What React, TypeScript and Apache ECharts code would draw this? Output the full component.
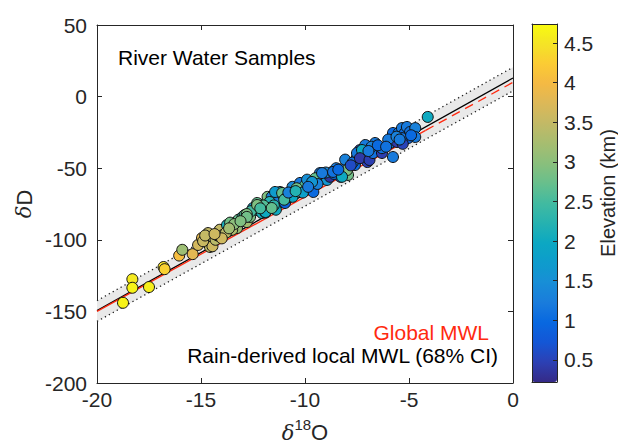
import React, { useEffect, useRef } from "react";
import * as echarts from "echarts";

// ---- data ----
const d18O = [
  -18.75, -18.3, -18.3, -17.5, -16.8, -16.75, -16.05, -15.9, -15.4,
  -15.14, -14.95, -14.7, -14.57, -14.45, -14.66, -14.9, -14.3, -14.2, -14.1, -13.94, -13.75, -13.6, -13.27, -13.2, -12.8, -12.64, -13.0, -12.9, -13.5, -13.8, -14.0, -13.4,
  -12.5, -12.3, -12.3, -12.07, -11.9, -11.8, -12.3, -11.9, -11.6, -11.35, -10.96, -11.06, -11.2, -11.44, -11.7, -11.8, -11.4, -11.1, -10.9, -10.6, -10.6, -11.0, -12.6, -12.0, -11.5, -12.8,
  -10.24, -10.24, -9.6, -9.76, -9.28, -9.2, -8.94, -8.8, -8.7, -10.0, -10.4, -9.9, -9.5, -9.4, -10.1, -9.0,
  -8.3, -8.2, -7.98, -7.93, -8.07, -7.6, -7.5, -7.36, -7.1, -7.0, -7.1, -7.98, -7.7, -7.5, -7.26, -7.36, -6.9, -6.73, -6.63, -6.3, -6.3, -8.5, -8.6, -6.8, -6.5,
  -5.77, -5.9, -5.77, -5.58, -5.5, -5.34, -5.2, -5.1, -4.95, -4.7, -4.7, -5.05, -5.34, -4.1, -6.0, -5.6, -4.9, -5.3,
  -12.8, -12.3, -11.9, -11.6, -9.66, -9.18, -8.65, -8.22, -14.8, -14.35, -13.65, -13.1, -12.15, -10.8, -10.45, -9.85, -8.4, -7.8, -6.95, -6.1, -5.45,
];
const dD = [
  -144, -127.5, -133.5, -133, -119, -120.5, -111, -107, -110,
  -103.6, -98.7, -101.5, -105, -104.5, -95.3, -101, -100, -97, -93, -96.6, -89.7, -88, -91.8, -86, -87.6, -84, -84, -82.7, -93, -95, -99, -89,
  -77.8, -79.2, -77, -81.3, -74.3, -70, -74.3, -81, -70, -73.6, -74.3, -68.7, -66.6, -66.6, -73.6, -77.8, -79, -67.3, -70.8, -70, -63, -72, -80, -76, -76, -82,
  -65, -60.3, -66.6, -60.3, -53.4, -55, -58.2, -56, -52.7, -62, -64, -58, -57, -61, -67, -53,
  -56, -53.4, -49, -54.7, -44, -47.8, -42.2, -37.3, -40.8, -45.7, -33.8, -51.3, -46, -39.4, -37.3, -43, -44.3, -39.4, -32.4, -39.4, -36, -50, -54, -35, -34,
  -42.2, -32.4, -25.4, -31.7, -25.4, -22, -25.4, -21.2, -24.7, -22, -28.2, -29, -29, -14.2, -30, -28, -27, -33,
  -84, -75.7, -80.6, -77.8, -59.6, -53.4, -52.6, -56, -97, -96, -92, -87, -78, -67, -66, -63, -51, -48, -38, -35, -30,
];
const elevation = [
  4.65, 4.55, 4.65, 4.6, 4.45, 4.3, 4.05, 3.15, 3.8,
  3.65, 3.8, 3.3, 3.45, 3.6, 3.5, 3.55, 3.4, 3.3, 3.5, 3.25, 2.1, 2.8, 3.1, 2.7, 3.2, 2.9, 2.4, 2.6, 3.3, 3.4, 3.6, 3.0,
  1.7, 2.3, 2.8, 2.1, 2.4, 2.9, 2.7, 1.6, 1.3, 1.2, 0.9, 1.3, 1.5, 1.7, 2.2, 1.9, 2.0, 2.7, 2.8, 1.95, 1.4, 2.5, 2.5, 2.6, 2.3, 2.9,
  1.0, 1.2, 1.0, 1.1, 1.2, 0.8, 1.6, 0.35, 1.3, 2.6, 2.8, 1.5, 2.7, 1.3, 1.8, 1.4,
  0.4, 1.1, 1.2, 2.8, 1.3, 1.0, 0.7, 0.5, 1.3, 0.45, 1.2, 2.9, 1.1, 1.2, 1.95, 0.4, 0.45, 1.1, 1.2, 0.45, 1.1, 1.2, 1.0, 1.3, 1.0,
  1.2, 1.1, 1.0, 0.4, 1.1, 1.2, 1.0, 1.2, 1.1, 1.3, 1.2, 0.9, 1.1, 2.0, 1.2, 1.3, 1.0, 0.5,
  2.8, 2.9, 2.0, 2.7, 1.6, 1.2, 1.1, 2.0, 3.5, 3.6, 3.2, 2.9, 2.5, 1.3, 2.2, 1.2, 1.0, 0.6, 1.2, 1.1, 1.2,
];

const globalMWLSolid = [[-20, -150], [-4.2, -23.6]];
const globalMWLDashed = [[-4.2, -23.6], [0, 10]];
const localMWL = [[-20, -149.5], [0, 13]];
const ciUpper = [[-20, -142.5], [0, 20.5]];
const ciLower = [[-20, -157], [0, 4]];

const xTicks = { min: -20, max: 0, interval: 5 };
const yTicks = { min: -200, max: 50, interval: 50 };
const elevRange = { min: 0.22, max: 4.74 };
const colorbarTicks = [0.5, 1, 1.5, 2, 2.5, 3, 3.5, 4, 4.5];

const parula = [
  "#352a87", "#2c40b4", "#1456d6", "#0868e0", "#1a7cdc", "#188ed6", "#0e9ccc",
  "#0ca8c2", "#26b2b0", "#42baa0", "#68bf8c", "#8abf7c", "#a6bd70", "#c2b966",
  "#dcb858", "#f4b944", "#fbcb34", "#f4e426", "#f9fb0e",
];

const FONT = "'Liberation Sans', Arial, Helvetica, sans-serif";
const AX = "#262626";
const FS = 21;

export default function App() {
  const ref = useRef<HTMLDivElement>(null);
  useEffect(() => {
    if (!ref.current) return;
    const chart = echarts.init(ref.current, null, { renderer: "svg" });
    const points = d18O.map((x, i) => [x, dD[i], elevation[i]]);

    const mainAxisCommon = {
      axisLine: { show: true, onZero: false, lineStyle: { color: AX, width: 1 } },
      axisTick: { show: true, inside: true, length: 5, lineStyle: { color: AX } },
      splitLine: { show: false },
    };
    const cbLine = { show: true, onZero: false, lineStyle: { color: AX } };

    const option: any = {
      animation: false,
      backgroundColor: "#ffffff",
      grid: [
        { left: 97, top: 25, width: 416, height: 358 },
        { left: 532, top: 24, width: 25, height: 358 },
      ],
      xAxis: [
        {
          type: "value", gridIndex: 0, position: "bottom", ...xTicks, ...mainAxisCommon,
          axisLabel: { color: AX, fontSize: FS, fontFamily: FONT, margin: 6 },
        },
        {
          type: "value", gridIndex: 0, position: "top", ...xTicks, ...mainAxisCommon,
          axisLabel: { show: false },
        },
        {
          type: "value", gridIndex: 1, position: "bottom", min: 0, max: 1, z: 10,
          axisLine: cbLine,
          axisTick: { show: false }, axisLabel: { show: false }, splitLine: { show: false },
        },
        {
          type: "value", gridIndex: 1, position: "top", min: 0, max: 1, z: 10,
          axisLine: cbLine,
          axisTick: { show: false }, axisLabel: { show: false }, splitLine: { show: false },
        },
      ],
      yAxis: [
        {
          type: "value", gridIndex: 0, position: "left", ...yTicks, ...mainAxisCommon,
          axisLabel: { color: AX, fontSize: FS, fontFamily: FONT, margin: 10 },
        },
        {
          type: "value", gridIndex: 0, position: "right", ...yTicks, ...mainAxisCommon,
          axisLabel: { show: false },
        },
        {
          type: "value", gridIndex: 1, position: "left", ...elevRange, z: 10,
          axisLine: cbLine,
          axisTick: { show: false }, axisLabel: { show: false }, splitLine: { show: false },
        },
        {
          type: "value", gridIndex: 1, position: "right", ...elevRange, z: 10,
          axisLine: cbLine,
          axisTick: { show: true, inside: true, length: 4, customValues: colorbarTicks, lineStyle: { color: AX } },
          axisLabel: {
            show: true, customValues: colorbarTicks, color: AX, fontSize: FS, fontFamily: FONT, margin: 7,
            formatter: (v: number) => String(v),
          },
          splitLine: { show: false },
        },
      ],
      visualMap: {
        type: "continuous",
        min: elevRange.min,
        max: elevRange.max,
        dimension: 2,
        seriesIndex: 6,
        inRange: { color: parula },
        orient: "vertical",
        left: 532,
        top: 24,
        itemWidth: 25,
        itemHeight: 358,
        padding: 0,
        calculable: false,
        hoverLink: false,
        text: null,
        showLabel: false,
      },
      graphic: [
        {
          type: "text", left: 118, top: 47,
          style: { text: "River Water Samples", fontSize: FS, fontFamily: FONT, fill: "#000" },
        },
        {
          type: "text", x: 489, y: 332,
          style: { text: "Global MWL", fontSize: FS, fontFamily: FONT, fill: "#ff2a10", align: "right", verticalAlign: "middle" },
        },
        {
          type: "text", x: 498, y: 355,
          style: { text: "Rain-derived local MWL (68% CI)", fontSize: FS, fontFamily: FONT, fill: "#000", align: "right", verticalAlign: "middle" },
        },
        {
          type: "text", x: 24, y: 204, rotation: Math.PI / 2,
          style: {
            text: "{d|δ}{n|D}", align: "center", verticalAlign: "middle", fill: AX,
            rich: {
              d: { fontFamily: "'DejaVu Serif', serif", fontStyle: "italic", fontSize: 21, fill: AX },
              n: { fontFamily: FONT, fontSize: 22, fill: AX },
            },
          },
        },
        {
          type: "text", x: 305, y: 430,
          style: {
            text: "{d|δ}{s|18}{n|O}", align: "center", verticalAlign: "middle", fill: AX,
            rich: {
              d: { fontFamily: "'DejaVu Serif', serif", fontStyle: "italic", fontSize: 21, fill: AX, lineHeight: 26, verticalAlign: "bottom" },
              s: { fontFamily: FONT, fontSize: 15, fill: AX, lineHeight: 26, verticalAlign: "top" },
              n: { fontFamily: FONT, fontSize: 22, fill: AX, lineHeight: 26, verticalAlign: "bottom" },
            },
          },
        },
        {
          type: "text", x: 608, y: 193, rotation: Math.PI / 2,
          style: { text: "Elevation (km)", fontSize: 20, fontFamily: FONT, fill: AX, align: "center", verticalAlign: "middle" },
        },
      ],
      series: [
        {
          type: "custom",
          name: "CI band",
          xAxisIndex: 0, yAxisIndex: 0,
          data: [[ciUpper[0][0], ciUpper[0][1]]],
          encode: { x: 0, y: 1 },
          clip: true,
          z: 1,
          silent: true,
          renderItem: (params: any, api: any) => {
            const poly = ciUpper.concat(ciLower.slice().reverse()).map((p) => api.coord(p));
            return {
              type: "polygon",
              shape: { points: poly },
              style: { fill: "#e9e9e9", stroke: "none" },
            };
          },
        },
        {
          type: "line", name: "CI upper", data: ciUpper, showSymbol: false, symbol: "none", z: 2, silent: true,
          lineStyle: { color: "#222", width: 1.3, type: [1.3, 3.2] },
        },
        {
          type: "line", name: "CI lower", data: ciLower, showSymbol: false, symbol: "none", z: 2, silent: true,
          lineStyle: { color: "#222", width: 1.3, type: [1.3, 3.2] },
        },
        {
          type: "line", name: "Local MWL", data: localMWL, showSymbol: false, symbol: "none", z: 3, silent: true,
          lineStyle: { color: "#000", width: 1.3 },
        },
        {
          type: "line", name: "Global MWL", data: globalMWLSolid, showSymbol: false, symbol: "none", z: 3, silent: true,
          lineStyle: { color: "#ff2a10", width: 1.3 },
        },
        {
          type: "line", name: "Global MWL ext", data: globalMWLDashed, showSymbol: false, symbol: "none", z: 3, silent: true,
          lineStyle: { color: "#ff2a10", width: 1.3, type: [9, 6] },
        },
        {
          type: "scatter",
          name: "River Water Samples",
          data: points,
          symbol: "circle",
          symbolSize: 11,
          z: 5,
          itemStyle: { borderColor: "#111", borderWidth: 1, opacity: 1 },
        },
      ],
    };
    chart.setOption(option);
    return () => chart.dispose();
  }, []);
  return (
    <div
      ref={ref}
      style={{ position: "fixed", left: 0, top: 0, width: 618, height: 444 }}
    />
  );
}
